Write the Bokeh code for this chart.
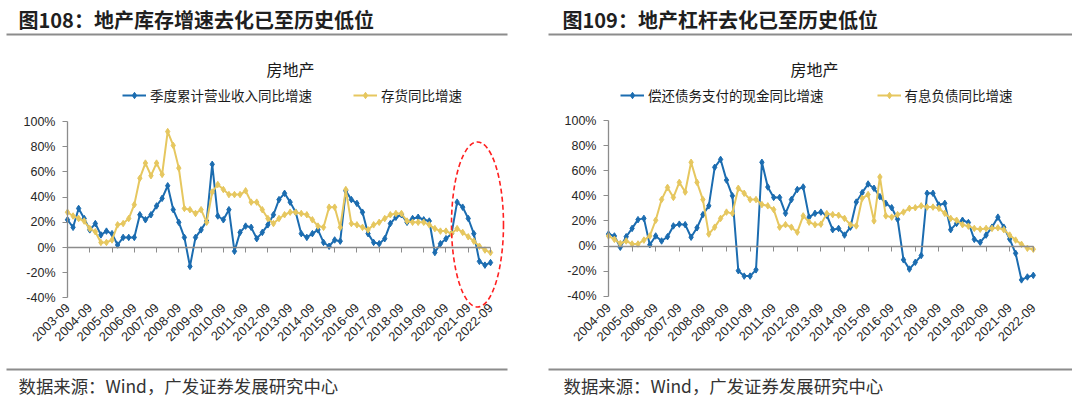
from math import pi
from bokeh.plotting import figure
from bokeh.models import (FixedTicker, LinearAxis, Label, BoxAnnotation, Legend,
                          LegendItem, Range1d)
from bokeh.layouts import row
from bokeh.embed import file_html
from bokeh.resources import INLINE

# ---------------- data ----------------
left_ticks_labels = ["2003-09", "2004-09", "2005-09", "2006-09", "2007-09", "2008-09",
                     "2009-09", "2010-09", "2011-09", "2012-09", "2013-09", "2014-09",
                     "2015-09", "2016-09", "2017-09", "2018-09", "2019-09", "2020-09",
                     "2021-09", "2022-09"]
right_ticks_labels = left_ticks_labels[1:]

left_revenue = [22, 16, 31, 23, 14, 19, 10, 13, 11, 2, 8, 8, 8, 26, 22, 26, 33, 39, 49, 30,
                20, 8, -15, 8, 14, 21, 66, 25, 22, 30, -3, 12, 17, 16, 7, 12, 18, 26, 38, 43,
                36, 28, 11, 8, 11, 14, 4, 1, 6, 5, 45, 38, 35, 28, 11, 4, 3, 7, 19, 24,
                26, 20, 23, 24, 22, 21, -4, 3, 7, 11, 36, 32, 23, 11, -11, -14, -12]
left_inventory = [28, 25, 23, 21, 15, 12.5, 4, 4, 6, 18, 19, 23, 34, 55, 67, 57, 67, 58, 92, 81,
                  63, 31, 30, 27, 30, 20, 44, 50, 46, 42, 42, 42, 45, 36, 36, 30, 23, 19, 23, 26,
                  28, 28, 27, 26, 22, 17, 16, 32, 32, 16, 46, 19, 18, 16, 14, 18, 20, 23, 26, 27,
                  27, 21, 20, 20, 20, 18, 15, 13, 13, 11, 15, 12, 8.5, 5, 1, -2, -4]

right_repay = [9.5, 8, -1, 7.4, 14, 21, 22, 1, 8, 4, 7.4, 16, 17.4, 17, 7, 14.5, 25, 32, 62.7, 69,
               52.5, 40, -19.7, -24, -24, -19, 66.7, 47, 38.7, 38.7, 26, 37, 45, 47, 23, 26, 27,
               24.5, 13, 14, 8.7, 15, 35, 42.5, 49.4, 46, 39.3, 34, 30.5, 21.3, -11, -18.4, -13,
               -7.6, 42, 42, 32.7, 34, 13, 18, 20.5, 18.7, 5.3, 2.9, 8.7, 15, 23, 15, 5.5, -5.8,
               -27, -24.7, -23.4]
right_debt = [8, 5.3, 2, 4, 1.6, 1.6, 4.7, 8, 20.5, 37, 46.7, 38.7, 50.7, 43, 66.7, 50.7, 37, 9.5,
              15, 22, 27, 26, 46, 42, 37, 37, 33, 32, 29, 15, 17, 15, 11, 24, 19, 17, 17.4, 25.8,
              25, 24.5, 22, 17, 16, 38, 41, 20, 55, 24, 23, 25, 27, 30, 30.5, 32, 31, 31, 30, 26,
              22, 20.5, 17, 15.8, 14, 13.4, 14, 14, 14.5, 13, 8.7, 4.7, 1.3, -1.8, -2.6]

y_ticks = [-40, -20, 0, 20, 40, 60, 80, 100]
y_tick_labels = ["-40%", "-20%", "0%", "20%", "40%", "60%", "80%", "100%"]

BLUE = "#1B6CB0"
YELLOW = "#E6C75F"
AXIS = "#8C8C8C"
TXT = "#262626"
CJK = "Noto Sans CJK SC"
LAT = "Liberation Sans"
H = 398


def make_panel(W, title, sub, names, series, tick_labels, x0px, sx, y0py, sy,
               legend_px, legend_spacing, title_px, rule_top, sub_px, src_px, rule_bot,
               label_py, ellipse=None):
    n = len(series[0])
    xs = list(range(n))
    # frame covers the whole figure; axes are placed with fixed_location
    xr = Range1d(-x0px / sx, (W - x0px) / sx)
    yr = Range1d((y0py - H) / sy, y0py / sy)
    p = figure(width=W, height=H, x_range=xr, y_range=yr, output_backend="svg",
               toolbar_location=None, x_axis_location=None, y_axis_location=None,
               min_border=0, min_border_left=0, min_border_right=0, min_border_top=0,
               min_border_bottom=0)
    p.outline_line_color = None
    p.xgrid.visible = False
    p.ygrid.visible = False

    yax = LinearAxis(fixed_location=0, ticker=FixedTicker(ticks=y_ticks),
                     major_label_overrides=dict(zip(y_ticks, y_tick_labels)),
                     bounds=(-40, 100), axis_line_color=AXIS, axis_line_width=1.3,
                     major_tick_line_color=AXIS, major_tick_out=5, major_tick_in=0,
                     minor_tick_line_color=None, major_label_standoff=7,
                     major_label_text_font=LAT, major_label_text_font_size="12.5px",
                     major_label_text_color=TXT)
    p.add_layout(yax, "left")

    xt = list(range(0, n, 4))
    zero_ax = LinearAxis(fixed_location=0, ticker=FixedTicker(ticks=xt),
                         bounds=(0, n - 1), axis_line_color=AXIS, axis_line_width=1.3,
                         major_tick_line_color=AXIS, major_tick_in=0, major_tick_out=5,
                         minor_tick_line_color=None, major_label_text_alpha=0,
                         major_label_text_font_size="1px", major_label_standoff=0)
    p.add_layout(zero_ax, "below")

    xax = LinearAxis(fixed_location=(y0py - label_py) / sy, ticker=FixedTicker(ticks=xt),
                     major_label_overrides=dict(zip(xt, tick_labels)),
                     major_label_orientation=pi / 4, axis_line_color=None,
                     major_tick_line_color=None, minor_tick_line_color=None,
                     major_tick_in=0, major_tick_out=0,
                     major_label_standoff=0, major_label_text_font=LAT,
                     major_label_text_font_size="12.8px", major_label_text_color=TXT)
    p.add_layout(xax, "below")

    items = []
    for name, ys, col in zip(names, series, [BLUE, YELLOW]):
        l = p.line(xs, ys, line_color=col, line_width=2)
        s = p.scatter(xs, ys, marker="diamond", size=6.5, fill_color=col, line_color=col)
        items.append(LegendItem(label=name, renderers=[l, s]))

    if ellipse is not None:
        cx, cy, w, h = ellipse
        p.ellipse(x=[cx], y=[cy], width=[w], height=[h], fill_color=None,
                  line_color="#FF2020", line_dash="5 3", line_width=1.6)

    leg = Legend(items=items, location=(legend_px[0], H - legend_px[1] - 8),
                 orientation="horizontal",
                 border_line_color=None, background_fill_alpha=0, padding=0, margin=0,
                 spacing=legend_spacing, glyph_width=24, glyph_height=16, label_height=16,
                 label_standoff=4, label_text_font=CJK, label_text_font_size="13.5px",
                 label_text_color="#1a1a1a")
    p.add_layout(leg)

    p.add_layout(Label(x=title_px[0], y=H - title_px[1], x_units="screen", y_units="screen",
                       text=title, text_font=CJK, text_font_style="bold",
                       text_font_size="20px", text_color="#1f1f1f",
                       text_align="left", text_baseline="middle"))
    p.add_layout(Label(x=sub_px[0], y=H - sub_px[1], x_units="screen", y_units="screen",
                       text=sub, text_font=CJK, text_font_size="16px", text_color="#1a1a1a",
                       text_align="center", text_baseline="middle"))
    p.add_layout(Label(x=src_px[0], y=H - src_px[1], x_units="screen", y_units="screen",
                       text="数据来源：Wind，广发证券发展研究中心", text_font=CJK,
                       text_font_size="17.4px", text_color="#333333",
                       text_align="left", text_baseline="middle"))
    for (l0, r0, t0) in (rule_top, rule_bot):
        p.add_layout(BoxAnnotation(left=l0, right=r0, top=H - t0, bottom=H - t0 - 2,
                                   left_units="screen", right_units="screen",
                                   top_units="screen", bottom_units="screen",
                                   fill_color="#8C8C8C", fill_alpha=1, line_color=None,
                                   line_alpha=0))
    return p


left = make_panel(532, "图108：地产库存增速去化已至历史低位", "房地产",
                  ["季度累计营业收入同比增速", "存货同比增速"],
                  [left_revenue, left_inventory], left_ticks_labels,
                  x0px=67, sx=5.566, y0py=247.0, sy=1.26,
                  legend_px=(122, 97), legend_spacing=41,
                  title_px=(18, 18.5), rule_top=(6, 507, 33), sub_px=(290, 68),
                  src_px=(18, 384.5), rule_bot=(6, 507, 368), label_py=305,
                  ellipse=(73.66, 18.25, 9.34, 131))

# right panel starts at page x = 532
right = make_panel(540, "图109：地产杠杆去化已至历史低位", "房地产",
                   ["偿还债务支付的现金同比增速", "有息负债同比增速"],
                   [right_repay, right_debt], right_ticks_labels,
                   x0px=608 - 532, sx=5.9, y0py=245.5, sy=1.255,
                   legend_px=(620 - 532, 97), legend_spacing=53,
                   title_px=(562 - 532, 18.5), rule_top=(548 - 532, 540, 33),
                   sub_px=(814 - 532, 68), src_px=(563 - 532, 384.5),
                   rule_bot=(548 - 532, 540, 368), label_py=305)

layout = row(left, right)
open("out.html", "w").write(file_html(layout, INLINE))
